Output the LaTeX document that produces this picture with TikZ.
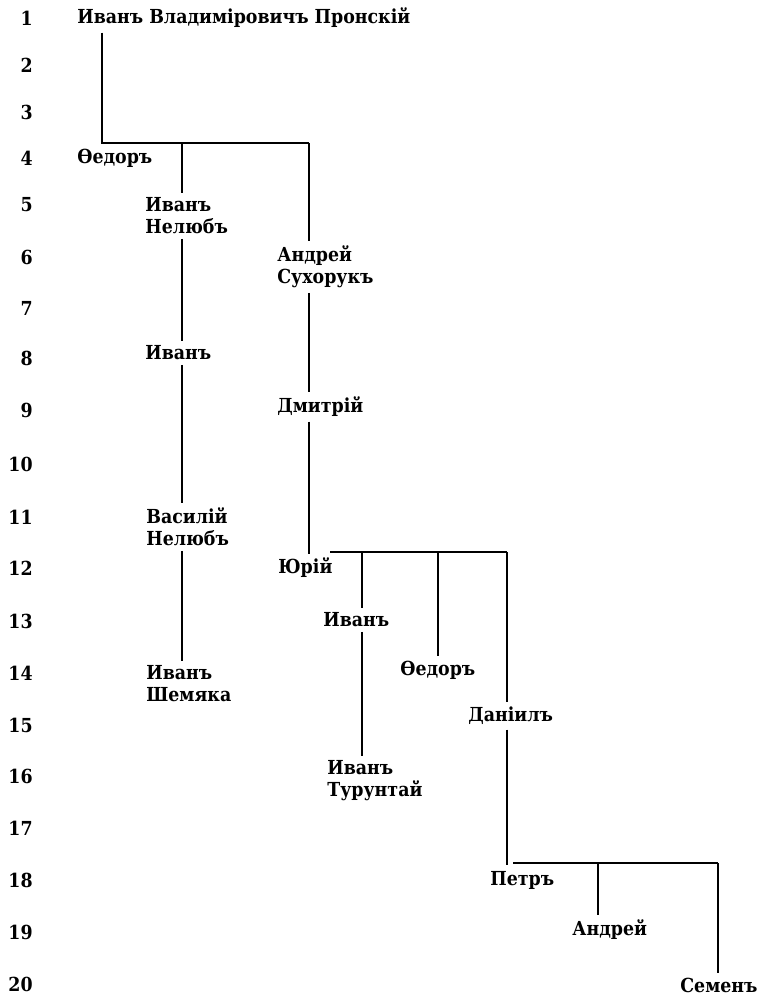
\documentclass[tikz,border=0pt]{standalone}
\usepackage{fontspec}
\setmainfont{DejaVu Serif}[FakeStretch=0.9]

\begin{document}
\begin{tikzpicture}[x=0.2mm, y=-0.2mm,
    person/.style={anchor=west, inner xsep=0pt, inner ysep=2.5pt, align=left,
        font=\bfseries\fontsize{11}{12.5}\selectfont},
    genno/.style={anchor=east, inner sep=0pt, font=\bfseries\fontsize{11}{12.5}\selectfont},
    link/.style={line width=0.8pt}]
    \useasboundingbox (0,0) rectangle (758,999);

    % generation numbers
    \foreach \n/\y in {1/18,2/65,3/112,4/158,5/205,6/257,7/308,8/358,9/410,10/464,
        11/517,12/568,13/621,14/673,15/725,16/776,17/828,18/880,19/932,20/984}{
        \node[genno] (g\n) at (33,\y) {\n};}

    \node[person] (ivp) at (77,18) {Иванъ Владиміровичъ Пронскій};
    \node[person] (fedor) at (77,158) {Ѳедоръ};
    \node[person] (nelyub) at (145,216) {Иванъ\\Нелюбъ};
    \node[person] (suhoruk) at (277,267) {Андрей\\Сухорукъ};
    \node[person] (ivan) at (145,353) {Иванъ};
    \node[person] (dmitriy) at (277,407) {Дмитрій};
    \node[person] (vasiliy) at (146,527) {Василій\\Нелюбъ};
    \node[person] (yuriy) at (278,568) {Юрій};
    \node[person] (ivanb) at (323,620) {Иванъ};
    \node[person] (shemyaka) at (146,684) {Иванъ\\Шемяка};
    \node[person] (fedorb) at (400,670) {Ѳедоръ};
    \node[person] (daniil) at (468,716) {Даніилъ};
    \node[person] (turuntai) at (327,781) {Иванъ\\Турунтай};
    \node[person] (petr) at (490,880) {Петръ};
    \node[person] (andrey) at (572,930) {Андрей};
    \node[person] (semen) at (680,985) {Семенъ};

    % columns and bars
    \coordinate (c2) at (182,0);
    \coordinate (c4) at (362,0);
    \coordinate (c6) at (438,0);
    \coordinate (c7) at (598,0);
    \coordinate (j1) at (102,143);
    \coordinate (j1e) at (309,143);
    \coordinate (j2) at (309,554);
    \coordinate (j2a) at (330,552);
    \coordinate (j2e) at (507,552);
    \coordinate (j3) at (507,865);
    \coordinate (j3a) at (513,863);
    \coordinate (j3e) at (718,863);

    \draw[link] (ivp.south -| j1) -- (j1) -- (j1e);
    \draw[link] (j1 -| c2) -- (nelyub.north -| c2);
    \draw[link] (nelyub.south -| c2) -- (ivan.north -| c2);
    \draw[link] (ivan.south -| c2) -- (vasiliy.north -| c2);
    \draw[link] (vasiliy.south -| c2) -- (shemyaka.north -| c2);

    \draw[link] (j1e) -- (suhoruk.north -| j1e);
    \draw[link] (suhoruk.south -| j1e) -- (dmitriy.north -| j1e);
    \draw[link] (dmitriy.south -| j2) -- (j2);

    \draw[link] (j2a) -- (j2e);
    \draw[link] (j2a -| c4) -- (ivanb.north -| c4);
    \draw[link] (ivanb.south -| c4) -- (turuntai.north -| c4);
    \draw[link] (j2a -| c6) -- (fedorb.north -| c6);
    \draw[link] (j2e) -- (daniil.north -| j2e);
    \draw[link] (daniil.south -| j3) -- (j3);

    \draw[link] (j3a) -- (j3e);
    \draw[link] (j3a -| c7) -- (andrey.north -| c7);
    \draw[link] (j3e) -- (semen.north -| j3e);
\end{tikzpicture}
\end{document}
